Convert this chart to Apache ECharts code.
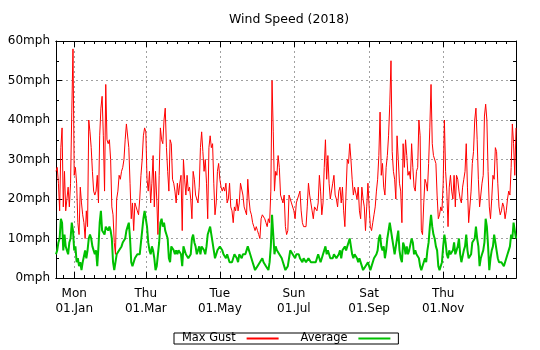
<!DOCTYPE html>
<html><head><meta charset="utf-8">
<script src="https://cdn.jsdelivr.net/npm/echarts@6/dist/echarts.min.js"></script>
<style>html,body{margin:0;padding:0;background:#fff}#c{width:540px;height:350px}</style>
</head><body><div id="c"></div>
<script>
// ---- data (daily, starting 2017-12-17) ----
const startDate = '2017-12-17';
const gust = [
27,28,24,17,33,38,18,27,17,20,
23,18,24,42,58,26,28,24,14,11,
23,19,16,14,10,17,13,40,37,33,
27,22,21,22,26,19,36,43,46,36,
22,49,35,34,35,30,18,16,9,6,
20,22,26,25,27,28,30,35,39,39,
33,24,15,19,12,19,18,17,16,20,
26,30,36,38,37,25,22,27,19,24,
31,18,27,20,11,26,38,35,34,40,
43,33,27,22,35,34,25,24,22,19,
24,21,24,26,12,30,25,21,26,22,
23,20,15,27,25,21,20,19,23,33,
37,32,27,30,24,15,33,36,33,34,
24,16,19,27,29,25,23,22,23,22,
24,19,20,24,18,17,14,18,17,20,
17,19,24,24,21,18,17,16,25,20,
17,16,14,13,12,13,12,11,10,15,
16,16,15,14,13,15,14,22,50,37,
22,27,26,31,28,21,20,19,21,13,
11,12,21,20,19,19,17,15,19,20,
21,22,17,14,13,13,13,18,24,21,
19,17,15,18,18,17,19,26,22,16,
19,28,35,25,31,24,20,20,24,26,
21,20,18,22,23,19,23,17,13,22,
30,29,34,30,25,21,23,23,20,23,
17,15,23,20,18,12,18,24,18,13,
12,14,16,18,22,25,31,42,26,29,
23,21,28,31,36,44,55,32,27,25,
20,36,30,24,22,14,34,28,35,31,
26,27,25,34,28,23,22,27,28,40,
36,12,11,19,25,24,22,29,38,49,
34,31,31,29,21,15,16,18,17,24,
40,27,22,13,23,26,22,20,26,18,
26,25,22,20,19,23,25,27,34,23,
14,14,22,29,32,40,43,35,25,18,
18,24,26,41,44,40,27,18,15,20,
26,25,33,32,24,18,16,17,19,18,
15,17,20,22,21,28,39,34,26,38
];
const avg = [
6,7,9,10,15,14,7,11,8,7,
6,9,10,14,12,7,8,4,5,3,
4,2,4,4,7,5,7,10,11,10,
8,7,6,7,3,8,14,17,12,12,
11,13,13,12,13,12,10,4,2,4,
6,6,7,7,8,9,9,10,12,13,
14,10,4,3,4,5,5,6,6,6,
9,12,15,17,15,13,9,7,6,8,
7,5,2,3,3,9,14,15,13,14,
12,11,10,5,4,8,8,7,6,7,
6,7,7,6,3,8,7,6,6,5,
5,6,10,11,9,8,6,7,8,6,
8,8,7,6,8,11,12,13,11,9,
7,5,5,7,7,8,8,7,6,6,
5,6,5,4,4,4,5,6,6,5,
4,6,6,5,6,6,6,7,8,7,
6,5,4,3,2,2,3,3,4,4,
5,4,4,3,3,2,4,8,16,11,
6,8,7,7,6,6,5,4,3,2,
2,3,5,7,7,6,6,5,6,6,
6,5,5,4,5,5,4,4,5,5,
4,4,4,4,4,5,6,5,4,5,
6,7,8,6,7,6,5,5,5,6,
6,5,5,6,7,5,7,7,8,7,
8,9,10,8,6,5,6,6,5,4,
5,5,3,2,2,3,3,4,4,2,
3,3,5,5,6,7,10,11,8,7,
8,5,7,10,12,14,14,10,8,6,
6,10,12,7,5,4,9,8,6,8,
6,7,7,10,9,6,7,6,6,5,
3,2,2,4,5,4,7,9,13,16,
13,11,10,8,7,3,2,2,4,8,
11,9,6,5,7,6,6,7,9,6,
7,8,10,6,4,4,7,8,11,7,
5,5,6,9,9,10,13,10,8,3,
5,6,7,9,15,13,8,2,5,7,
8,11,9,7,5,4,4,4,4,3,
4,5,6,7,8,11,10,14,12,10
];
const seriesNames = ['Max Gust', 'Average'];
const tickDates = ['2018-01-01','2018-03-01','2018-05-01','2018-07-01','2018-09-01','2018-11-01'];
const tickLabels = ['Mon\n01.Jan','Thu\n01.Mar','Tue\n01.May','Sun\n01.Jul','Sat\n01.Sep','Thu\n01.Nov'];
const minorBounds = ['2017-11-01','2018-01-01','2018-03-01','2018-05-01','2018-07-01','2018-09-01','2018-11-01','2019-01-01'];
const yUnit = 'mph';

// ---- build ----
const DAY = 86400000;
const t0 = Date.parse(startDate + 'T00:00:00Z');
const tMax = t0 + (gust.length - 1) * DAY;
const gustData = gust.map((v, i) => [t0 + i * DAY, v]);
const avgData = avg.map((v, i) => [t0 + i * DAY, v]);
const majorTs = tickDates.map(d => Date.parse(d + 'T00:00:00Z'));
const minorTs = [];
for (let i = 0; i < minorBounds.length - 1; i++) {
  const a = Date.parse(minorBounds[i] + 'T00:00:00Z'), b = Date.parse(minorBounds[i + 1] + 'T00:00:00Z');
  for (let k = 1; k < 7; k++) {
    const t = a + (b - a) * k / 7;
    if (t > t0 && t < tMax) minorTs.push(t);
  }
}
const FONT = 'DejaVu Sans';
const black = '#000';
const gridLine = { show: true, lineStyle: { color: '#a0a0a0', width: 1, type: [2, 3] } };

function xAx(pos, ticks, len, labels, split) {
  return {
    type: 'value', min: t0, max: tMax, position: pos, scale: true,
    axisLine: { show: true, onZero: false, lineStyle: { color: black, width: 1 } },
    axisTick: { show: true, inside: true, length: len, customValues: ticks, lineStyle: { color: black } },
    axisLabel: labels ? {
      show: true, customValues: ticks, color: black, fontFamily: FONT, fontSize: 12, lineHeight: 15, margin: 8,
      formatter: v => { const i = majorTs.indexOf(+v); return i >= 0 ? tickLabels[i] : ''; }
    } : { show: false },
    splitLine: split ? gridLine : { show: false },
    minorTick: { show: false }
  };
}
function yAx(pos, labels) {
  return {
    type: 'value', min: 0, max: 60, interval: 10, position: pos,
    axisLine: { show: true, lineStyle: { color: black, width: 1 } },
    axisTick: { show: true, inside: true, length: 6, lineStyle: { color: black } },
    minorTick: { show: true, splitNumber: 2, length: 3, lineStyle: { color: black } },
    axisLabel: labels ? { show: true, color: black, fontFamily: FONT, fontSize: 12, margin: 6, formatter: v => v + yUnit } : { show: false },
    splitLine: labels ? gridLine : { show: false }
  };
}

const chart = echarts.init(document.getElementById('c'), null, { renderer: 'canvas' });
chart.setOption({
  animation: false,
  backgroundColor: '#fff',
  textStyle: { fontFamily: FONT },
  title: { text: 'Wind Speed (2018)', left: 224, top: 8, textStyle: { fontFamily: FONT, fontSize: 12.5, fontWeight: 'normal', color: black } },
  grid: { left: 56, right: 24, top: 41, bottom: 72, containLabel: false },
  legend: {
    data: seriesNames, left: 174, top: 333, orient: 'horizontal', align: 'right',
    borderColor: black, borderWidth: 1, padding: [0, 7, 0, 8], itemGap: 21, itemWidth: 32, itemHeight: 10,
    itemStyle: { opacity: 0 },
    textStyle: { fontFamily: FONT, fontSize: 11.4, color: black, padding: [0, 6, 0, 0] },
    selectedMode: false
  },
  xAxis: [
    xAx('bottom', majorTs, 6, true, true),
    xAx('top', majorTs, 6, false, false),
    xAx('bottom', minorTs, 3, false, false),
    xAx('top', minorTs, 3, false, false)
  ],
  yAxis: [yAx('left', true), yAx('right', false)],
  series: [
    { name: seriesNames[0], type: 'line', xAxisIndex: 0, yAxisIndex: 0, data: gustData, symbol: 'none', lineStyle: { color: '#ff0000', width: 1 }, itemStyle: { color: '#ff0000' } },
    { name: seriesNames[1], type: 'line', xAxisIndex: 0, yAxisIndex: 0, data: avgData, symbol: 'none', lineStyle: { color: '#00c000', width: 2 }, itemStyle: { color: '#00c000' } }
  ]
});
</script></body></html>
